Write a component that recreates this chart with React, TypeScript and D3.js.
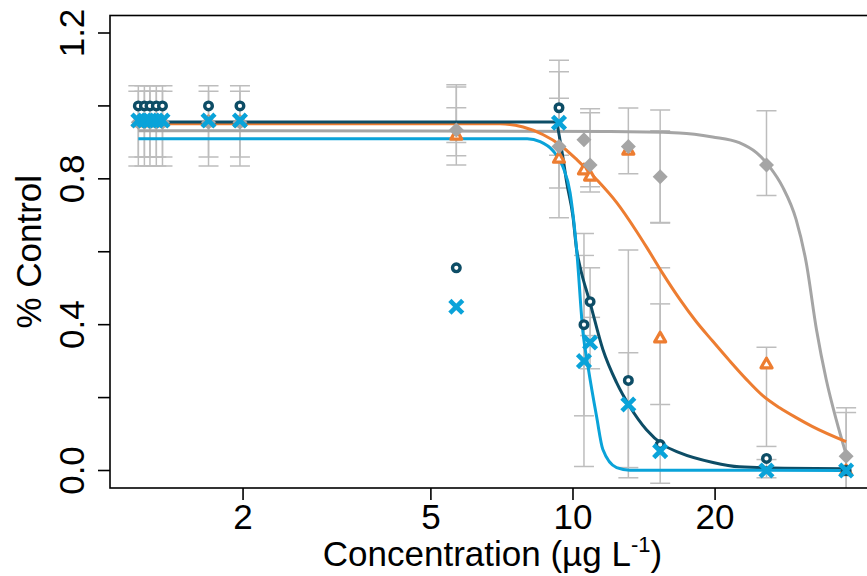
import React from "react";
import * as d3 from "d3";

const W = 867;
const H = 576;

// x positions of the tested concentrations (µg/L)
const concentrations = [1.2, 1.236, 1.27, 1.31, 1.35, 1.69, 1.97, 5.66, 9.34, 10.55, 10.87, 13.1, 15.3, 25.7, 37.9];

const darkTealValues = [1.0, 1.0, 1.0, 1.0, 1.0, 1.0, 1.0, 0.556, 0.995, 0.4, 0.463, 0.247, 0.071, 0.033, 0.0];
const lightBlueValues = [0.96, 0.96, 0.96, 0.96, 0.96, 0.96, 0.96, 0.449, 0.954, 0.3, 0.351, 0.181, 0.053, 0.0, 0.0];
const orangeValues = [0.957, 0.957, 0.957, 0.957, 0.957, 0.957, 0.957, 0.92, 0.857, 0.825, 0.808, 0.879, 0.364, 0.293, 0.0];
const grayValues = [0.955, 0.955, 0.955, 0.955, 0.955, 0.955, 0.955, 0.934, 0.889, 0.907, 0.838, 0.889, 0.806, 0.838, 0.039];

// fitted curves, [concentration, value]
const darkTealCurve: [number, number][] = [
  [1.2, 0.956], [9.17, 0.956], [9.47, 0.877], [9.7, 0.789], [10.0, 0.696], [10.18, 0.605],
  [10.35, 0.559], [10.87, 0.46], [11.57, 0.332], [12.37, 0.241], [13.2, 0.175], [14.31, 0.112],
  [15.5, 0.071], [16.8, 0.049], [19.8, 0.022], [22.5, 0.01], [28, 0.006], [37.9, 0.005],
];
const lightBlueCurve: [number, number][] = [
  [1.2, 0.91], [8.0, 0.91], [8.52, 0.902], [9.07, 0.877], [9.52, 0.833], [9.86, 0.762],
  [10.18, 0.605], [10.5, 0.378], [10.76, 0.285], [11.22, 0.148], [11.57, 0.0575], [12.37, 0.008],
  [13.2, 0.001], [37.9, 0.0],
];
const orangeCurve: [number, number][] = [
  [1.2, 0.951], [7.01, 0.951], [7.84, 0.942], [8.65, 0.921], [9.39, 0.893], [10.2, 0.852],
  [11.24, 0.797], [12.39, 0.734], [13.65, 0.655], [14.33, 0.612], [15.5, 0.54], [16.83, 0.47],
  [18.2, 0.41], [19.76, 0.355], [21.5, 0.3], [23.3, 0.25], [25.2, 0.206], [27.4, 0.172],
  [29.7, 0.145], [32.1, 0.121], [37.9, 0.079],
];
const grayCurve: [number, number][] = [
  [1.2, 0.932], [12.0, 0.93], [16.8, 0.926], [19.76, 0.915], [22.5, 0.899], [24.5, 0.871],
  [26.1, 0.833], [27.8, 0.778], [29.7, 0.688], [31.2, 0.57], [32.8, 0.386], [34.4, 0.249],
  [36.1, 0.14], [37.9, 0.044],
];

// error bars, [concentration, upper, lower]
const errorBars: [number, number, number][] = [
  [1.2, 1.055, 0.86], [1.2, 1.04, 0.835],
  [1.236, 1.055, 0.86], [1.236, 1.04, 0.835],
  [1.27, 1.055, 0.86], [1.27, 1.04, 0.835],
  [1.31, 1.055, 0.86], [1.31, 1.04, 0.835],
  [1.35, 1.055, 0.86], [1.35, 1.04, 0.835],
  [1.69, 1.055, 0.86], [1.69, 1.04, 0.835],
  [1.97, 1.055, 0.86], [1.97, 1.04, 0.835],
  [5.66, 1.058, 0.838], [5.66, 1.052, 0.863], [5.66, 0.995, 0.9],
  [9.34, 1.125, 0.865], [9.34, 1.094, 0.775], [9.34, 1.021, 0.693],
  [10.55, 0.65, 0.15], [10.55, 0.59, 0.011],
  [10.87, 0.992, 0.778], [10.87, 0.981, 0.764], [10.87, 0.556, 0.37], [10.87, 0.42, 0.279],
  [13.1, 0.994, 0.814], [13.1, 0.605, 0.008], [13.1, 0.323, -0.02],
  [15.3, 0.989, 0.679], [15.3, 0.932, 0.68], [15.3, 0.556, 0.181], [15.3, 0.457, -0.035],
  [25.7, 0.987, 0.754], [25.7, 0.338, 0.066], [25.7, 0.03, -0.02],
  [37.9, 0.172, -0.08], [37.9, 0.159, -0.05],
];

const yTicks = [0, 0.2, 0.4, 0.6, 0.8, 1.0, 1.2];
const yTickLabels = ["0.0", "0.4", "0.8", "1.2"];
const yLabelValues = [0, 0.4, 0.8, 1.2];
const xTicks = [2, 5, 10, 20];
const xTickLabels = ["2", "5", "10", "20"];

const COLORS = {
  darkTeal: "#0d4d66",
  lightBlue: "#0aa3d9",
  orange: "#ed7d31",
  gray: "#a5a5a5",
  err: "#bdbdbd",
};

const FONT = "'Liberation Sans', Arial, sans-serif";

export default function App() {
  const left = 110, right = 875, top = 15.5, bottom = 488;
  const lx0 = Math.log10(1.2), lx1 = Math.log10(38);
  const span = lx1 - lx0;
  const x = d3.scaleLog()
    .domain([Math.pow(10, lx0 - 0.04 * span), Math.pow(10, lx1 + 0.04 * span)])
    .range([left, right]);
  const y = d3.scaleLinear().domain([-0.048, 1.248]).range([bottom, top]);

  const line = d3.line<[number, number]>()
    .x((d) => x(d[0]))
    .y((d) => y(d[1]))
    .curve(d3.curveMonotoneX);

  const circleMark = (cx: number, cy: number, k: string) => (
    <circle key={k} cx={cx} cy={cy} r={3.8} fill="white" stroke={COLORS.darkTeal} strokeWidth={3.4} />
  );
  const xMark = (cx: number, cy: number, k: string) => {
    const s = 4.8;
    return (
      <path key={k} d={`M${cx - s},${cy - s}L${cx + s},${cy + s}M${cx - s},${cy + s}L${cx + s},${cy - s}`}
        stroke={COLORS.lightBlue} strokeWidth={4.6} strokeLinecap="square" fill="none" />
    );
  };
  const triMark = (cx: number, cy: number, k: string) => {
    const s = 5.5;
    return (
      <path key={k} d={`M${cx},${cy - s}L${cx + s},${cy + s * 0.75}L${cx - s},${cy + s * 0.75}Z`}
        stroke={COLORS.orange} strokeWidth={3.2} fill="white" strokeLinejoin="round" />
    );
  };
  const diaMark = (cx: number, cy: number, k: string) => {
    const s = 7.5;
    return (
      <path key={k} d={`M${cx},${cy - s}L${cx + s},${cy}L${cx},${cy + s}L${cx - s},${cy}Z`}
        fill={COLORS.gray} />
    );
  };

  return (
    <svg width={W} height={H} style={{ position: "absolute", left: 0, top: 0, background: "white" }}>
      <defs>
        <clipPath id="plotClip">
          <rect x={left} y={top} width={right - left} height={bottom - top} />
        </clipPath>
      </defs>
      <rect x={0} y={0} width={W} height={H} fill="white" />

      <g clipPath="url(#plotClip)">
        {/* error bars */}
        {errorBars.map(([c, hi, lo], i) => {
          const cx = x(c);
          return (
            <g key={"e" + i} stroke={COLORS.err} strokeWidth={1.5} fill="none">
              <line x1={cx} x2={cx} y1={y(hi)} y2={y(lo)} />
              <line x1={cx - 10} x2={cx + 10} y1={y(hi)} y2={y(hi)} />
              <line x1={cx - 10} x2={cx + 10} y1={y(lo)} y2={y(lo)} />
            </g>
          );
        })}

        {/* curves */}
        <path d={line(grayCurve) || ""} fill="none" stroke={COLORS.gray} strokeWidth={3} />
        <path d={line(orangeCurve) || ""} fill="none" stroke={COLORS.orange} strokeWidth={3} />
        <path d={line(darkTealCurve) || ""} fill="none" stroke={COLORS.darkTeal} strokeWidth={3} />
        <path d={line(lightBlueCurve) || ""} fill="none" stroke={COLORS.lightBlue} strokeWidth={3} />

        {/* points */}
        {concentrations.map((c, i) => triMark(x(c), y(orangeValues[i]), "o" + i))}
        {concentrations.map((c, i) => diaMark(x(c), y(grayValues[i]), "g" + i))}
        {concentrations.map((c, i) => circleMark(x(c), y(darkTealValues[i]), "d" + i))}
        {concentrations.map((c, i) => xMark(x(c), y(lightBlueValues[i]), "l" + i))}
      </g>

      {/* box */}
      <rect x={left} y={top} width={right - left} height={bottom - top} fill="none" stroke="black" strokeWidth={1.6} />

      {/* y axis */}
      {yTicks.map((t) => (
        <line key={"yt" + t} x1={left - 12} x2={left} y1={y(t)} y2={y(t)} stroke="black" strokeWidth={1.6} />
      ))}
      {yLabelValues.map((t, i) => (
        <text key={"yl" + t} transform={`translate(${84},${y(t)}) rotate(-90)`} textAnchor="middle"
          fontFamily={FONT} fontSize={35} fill="black">{yTickLabels[i]}</text>
      ))}
      <text transform={`translate(${41},${(top + bottom) / 2}) rotate(-90)`} textAnchor="middle"
        fontFamily={FONT} fontSize={35} fill="black">% Control</text>

      {/* x axis */}
      {xTicks.map((t, i) => (
        <g key={"xt" + t}>
          <line x1={x(t)} x2={x(t)} y1={bottom} y2={bottom + 12} stroke="black" strokeWidth={1.6} />
          <text x={x(t)} y={529} textAnchor="middle" fontFamily={FONT} fontSize={35} fill="black">{xTickLabels[i]}</text>
        </g>
      ))}
      <text x={(left + right) / 2} y={566} textAnchor="middle" fontFamily={FONT} fontSize={35} fill="black">
        Concentration (µg L<tspan fontSize={22} dy={-14}>-1</tspan><tspan dy={14}>)</tspan>
      </text>
    </svg>
  );
}
